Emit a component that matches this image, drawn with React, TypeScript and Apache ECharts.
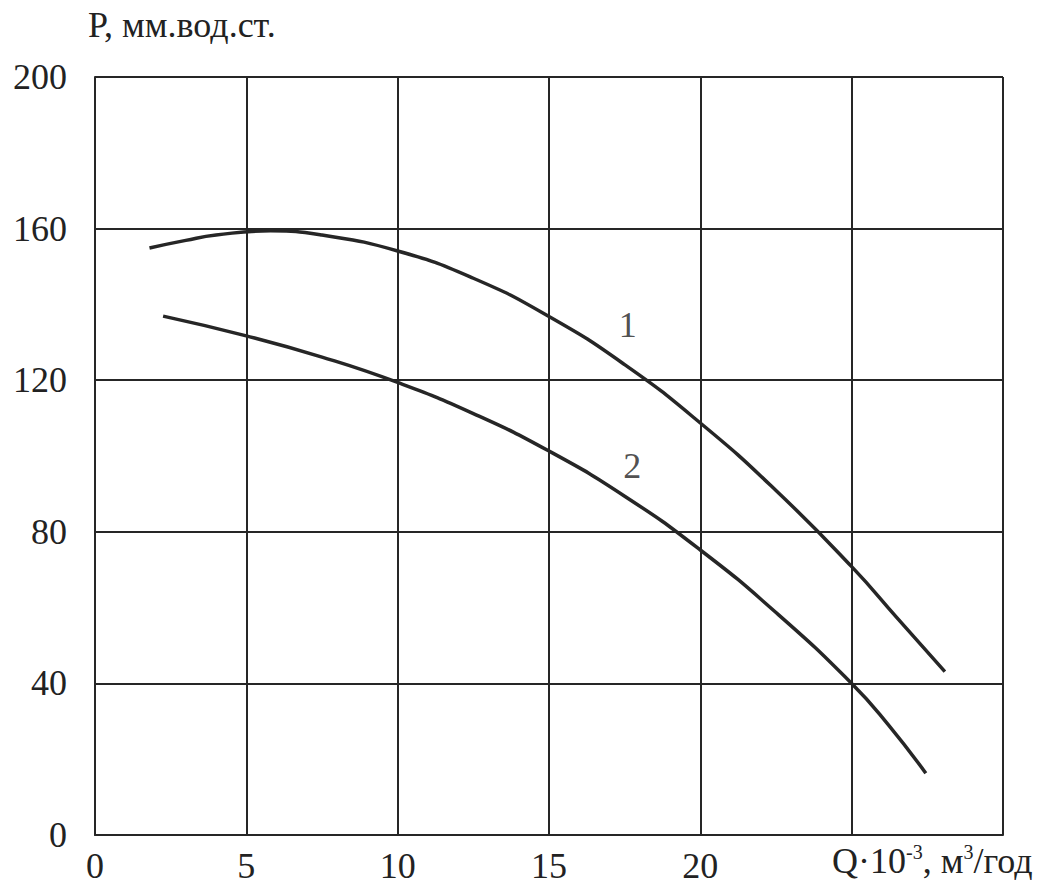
import React, { useEffect, useRef } from "react";
import * as echarts from "echarts";

const xTicks = [0, 5, 10, 15, 20, 25, 30];
const xTickLabels = ["0", "5", "10", "15", "20", "", ""];
const yTickLabels = ["0", "40", "80", "120", "160", "200"];

// Curve 1: Q (x10^-3 m3/h), P (mm water column)
const curve1Q = [1.8, 3.0, 4.0, 5.8, 7.5, 10.0, 12.5, 15.0, 17.5, 20.0, 22.5, 25.0, 26.5, 28.08];
const curve1P = [154.9, 156.9, 158.3, 159.4, 158.3, 154.1, 146.9, 136.8, 124.1, 108.7, 90.9, 70.8, 57.3, 43.1];

// Curve 2
const curve2Q = [2.25, 5.0, 7.5, 10.0, 12.5, 15.0, 17.5, 20.0, 22.5, 25.0, 26.2, 27.45];
const curve2P = [136.9, 131.7, 126.1, 119.4, 111.2, 101.3, 89.4, 75.2, 58.7, 40.0, 29.2, 16.3];

const curveLabels = ["1", "2"];
const curveLabelQ = [17.6, 17.75];
const curveLabelP = [134.6, 97.4];

const FONT = "'Liberation Serif', 'Times New Roman', serif";
const INK = "#262626";
const FS = 36;

export default function App() {
  const ref = useRef<HTMLDivElement>(null);
  useEffect(() => {
    if (!ref.current) return;
    const chart = echarts.init(ref.current, undefined, { renderer: "svg" });
    const zip = (a: number[], b: number[]) => a.map((v, i) => [v, b[i]]);
    chart.setOption({
      animation: false,
      backgroundColor: "#ffffff",
      grid: { left: 95, top: 77, right: 35, bottom: 57, containLabel: false },
      xAxis: {
        type: "value",
        min: 0,
        max: 30,
        interval: 5,
        axisLine: { show: true, lineStyle: { color: INK, width: 2 } },
        axisTick: { show: false },
        splitLine: { show: true, lineStyle: { color: INK, width: 2 } },
        axisLabel: {
          margin: 13,
          fontFamily: FONT,
          fontSize: FS,
          color: "#222",
          formatter: (v: number) => {
            const i = xTicks.indexOf(v);
            return i >= 0 ? xTickLabels[i] : "";
          },
        },
      },
      yAxis: {
        type: "value",
        min: 0,
        max: 200,
        interval: 40,
        axisLine: { show: true, lineStyle: { color: INK, width: 2 } },
        axisTick: { show: false },
        splitLine: { show: true, lineStyle: { color: INK, width: 2 } },
        axisLabel: {
          margin: 28,
          fontFamily: FONT,
          fontSize: FS,
          color: "#222",
          formatter: (v: number) => yTickLabels[Math.round(v / 40)] ?? "",
        },
      },
      graphic: [
        {
          type: "text",
          left: 88,
          top: 7,
          style: {
            text: "P, мм.вод.ст.",
            font: `${FS}px ${FONT}`,
            fill: "#222",
          },
        },
        {
          type: "text",
          left: 832,
          top: 842,
          style: {
            text: "Q·10{sup|-3}, м{sup|3}/год",
            font: `${FS}px ${FONT}`,
            fill: "#222",
            rich: {
              sup: {
                fontFamily: FONT,
                fontSize: 20,
                verticalAlign: "top",
                padding: [0, 0, 18, 0],
                fill: "#222",
              },
            },
          },
        },
      ],
      series: [
        {
          type: "line",
          smooth: 0.5,
          symbol: "none",
          data: zip(curve1Q, curve1P),
          lineStyle: { color: INK, width: 3.5 },
        },
        {
          type: "line",
          smooth: 0.5,
          symbol: "none",
          data: zip(curve2Q, curve2P),
          lineStyle: { color: INK, width: 3.5 },
        },
        {
          type: "scatter",
          symbolSize: 0,
          data: curveLabels.map((t, i) => ({ value: [curveLabelQ[i], curveLabelP[i]], name: t })),
          label: {
            show: true,
            position: "inside",
            formatter: (p: any) => p.name,
            fontFamily: FONT,
            fontSize: FS,
            color: "#222",
          },
        },
      ],
    });
    return () => chart.dispose();
  }, []);
  return (
    <div
      ref={ref}
      style={{ position: "absolute", left: 0, top: 0, width: 1038, height: 892 }}
    />
  );
}
